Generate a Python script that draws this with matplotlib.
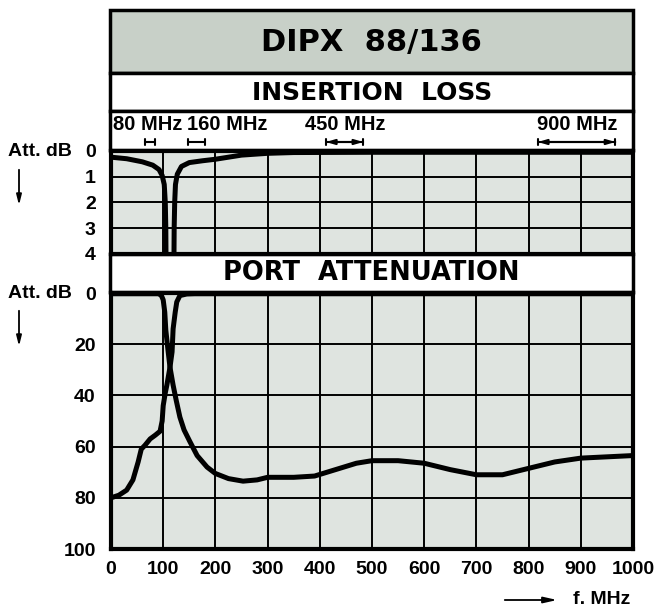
import matplotlib
matplotlib.use('Agg')
import matplotlib.pyplot as plt
import matplotlib.transforms as mtransforms
from matplotlib.patches import Rectangle

W, H = 656, 610

# insertion loss (dB) vs frequency (MHz)
il_low_f = [0, 30, 60, 80, 92, 98, 102, 104, 105, 105.5]
il_low_db = [0.24, 0.3, 0.42, 0.55, 0.72, 0.95, 1.3, 2.0, 3.0, 4.5]
il_high_f = [120.5, 121, 122, 123.5, 127, 135, 150, 175, 200, 250, 300, 350, 500, 1000]
il_high_db = [4.5, 3.0, 2.0, 1.3, 0.9, 0.6, 0.45, 0.38, 0.32, 0.16, 0.09, 0.06, 0.05, 0.05]

# port attenuation (dB) vs frequency (MHz)
pa_a_f = [0, 15, 30, 42, 52, 58, 65, 75, 85, 94, 98, 100, 104, 107, 110, 113, 117, 119, 123, 126, 132, 145, 160, 1000]
pa_a_db = [80, 79, 77, 73, 66, 61, 59.5, 57, 55.5, 54, 50, 44, 39, 36, 32.5, 29, 23, 14, 7.5, 3.5, 1, 0.4, 0.3, 0.3]
pa_b_f = [0, 50, 90, 94, 97, 100, 103, 105, 109, 113, 119, 125, 132, 140, 151, 165, 184, 200, 225, 253,
          280, 300, 350, 390, 430, 470, 500, 550, 600, 650, 700, 750, 800, 850, 900, 950, 1000]
pa_b_db = [0.3, 0.3, 0.3, 0.5, 1.2, 2.7, 7.5, 14.5, 22, 29, 36, 42, 48.5, 53.5, 58, 63.5, 68, 70.5, 72.5, 73.5,
           73, 72, 72, 71.5, 69, 66.5, 65.5, 65.5, 66.5, 69, 71, 71, 68.5, 66, 64.5, 64, 63.5]

# frequency bands marked above the insertion loss plot
band_names = ['80 MHz', '160 MHz', '450 MHz', '900 MHz']
band_lo = [65, 148, 412, 818]
band_hi = [84, 180, 483, 966]
band_text_x = [3, 146, 372, 816]
band_arrows = [False, False, True, True]

il_ticks = [0, 1, 2, 3, 4]
pa_ticks = [0, 20, 40, 60, 80, 100]
f_ticks = list(range(0, 1001, 100))

cell = '#dfe4e0'
band = '#c8d0c8'
bold = dict(family='DejaVu Sans', weight='bold')
small = dict(family='Liberation Sans', weight='bold')

fig = plt.figure(figsize=(W / 100, H / 100), dpi=100)
bg = fig.add_axes([0, 0, 1, 1])
bg.set_xlim(0, W)
bg.set_ylim(H, 0)
bg.axis('off')


def rect(x0, y0, x1, y1):
    return [x0 / W, 1 - y1 / H, (x1 - x0) / W, (y1 - y0) / H]


def box(x0, y0, x1, y1, fc, lw=2.5):
    bg.add_patch(Rectangle((x0, y0), x1 - x0, y1 - y0, facecolor=fc, edgecolor='black', lw=lw))


box(110, 10, 633, 73, band)
box(110, 73, 633, 111, 'white')
box(110, 111, 633, 150, 'white')
box(110, 254, 633, 292, 'white')
bg.text(371, 42, 'DIPX  88/136', ha='center', va='center', fontsize=22, **bold)
bg.text(372, 93, 'INSERTION  LOSS', ha='center', va='center', fontsize=18, **bold)
bg.text(371, 273, 'PORT  ATTENUATION', ha='center', va='center', fontsize=18.5, **bold)

ax_il = fig.add_axes(rect(111, 151, 633, 254))
ax_pa = fig.add_axes(rect(111, 293, 633, 549))

for ax, ticks in [(ax_il, il_ticks), (ax_pa, pa_ticks)]:
    ax.set_facecolor(cell)
    ax.set_xlim(0, 1000)
    ax.set_ylim(ticks[-1], 0)
    ax.set_xticks(f_ticks)
    ax.set_yticks(ticks)
    ax.grid(True, color='black', lw=1.4)
    ax.tick_params(length=0, pad=11, labelsize=14)
    for lab in ax.get_yticklabels() + ax.get_xticklabels():
        lab.set_family('Liberation Sans')
        lab.set_fontweight('bold')
    for s in ax.spines.values():
        s.set_linewidth(3)

ax_il.set_xticklabels([])
ax_il.plot(il_low_f, il_low_db, color='black', lw=3.6, solid_capstyle='butt')
ax_il.plot(il_high_f, il_high_db, color='black', lw=3.6, solid_capstyle='butt')
ax_pa.plot(pa_a_f, pa_a_db, color='black', lw=3.6)
ax_pa.plot(pa_b_f, pa_b_db, color='black', lw=3.6)
ax_pa.tick_params(axis='x', pad=9)

# band markers, x in MHz, y in pixels
tr = mtransforms.blended_transform_factory(ax_il.transData, bg.transData)
for name, lo, hi, tx, arr in zip(band_names, band_lo, band_hi, band_text_x, band_arrows):
    bg.annotate('', xy=(lo, 142), xytext=(hi, 142), xycoords=tr, textcoords=tr,
                arrowprops=dict(arrowstyle='|-|, widthA=0.25, widthB=0.25', lw=1.5, color='black',
                                shrinkA=0, shrinkB=0))
    if arr:
        bg.annotate('', xy=(lo, 142), xytext=(hi, 142), xycoords=tr, textcoords=tr,
                    arrowprops=dict(arrowstyle='<|-|>, head_length=0.5, head_width=0.15', lw=1.5,
                                    color='black', shrinkA=0, shrinkB=0))
    bg.text(tx, 124, name, transform=tr, ha='left', va='center', fontsize=14.5, **small)

# axis captions
bg.text(8, 152, 'Att. dB', ha='left', va='center', fontsize=14, **small)
bg.text(8, 293, 'Att. dB', ha='left', va='center', fontsize=14, **small)
for y0, y1 in [(167, 208), (308, 349)]:
    bg.annotate('', xy=(19, y1), xytext=(19, y0),
                arrowprops=dict(arrowstyle='-|>, head_length=0.6, head_width=0.15', lw=1.3, color='black'))
bg.annotate('', xy=(560, 600), xytext=(502, 600),
            arrowprops=dict(arrowstyle='-|>, head_length=0.8, head_width=0.18', lw=1.3, color='black'))
bg.text(573, 600, 'f. MHz', ha='left', va='center', fontsize=14, **small)

fig.savefig('out.png', dpi=100)
